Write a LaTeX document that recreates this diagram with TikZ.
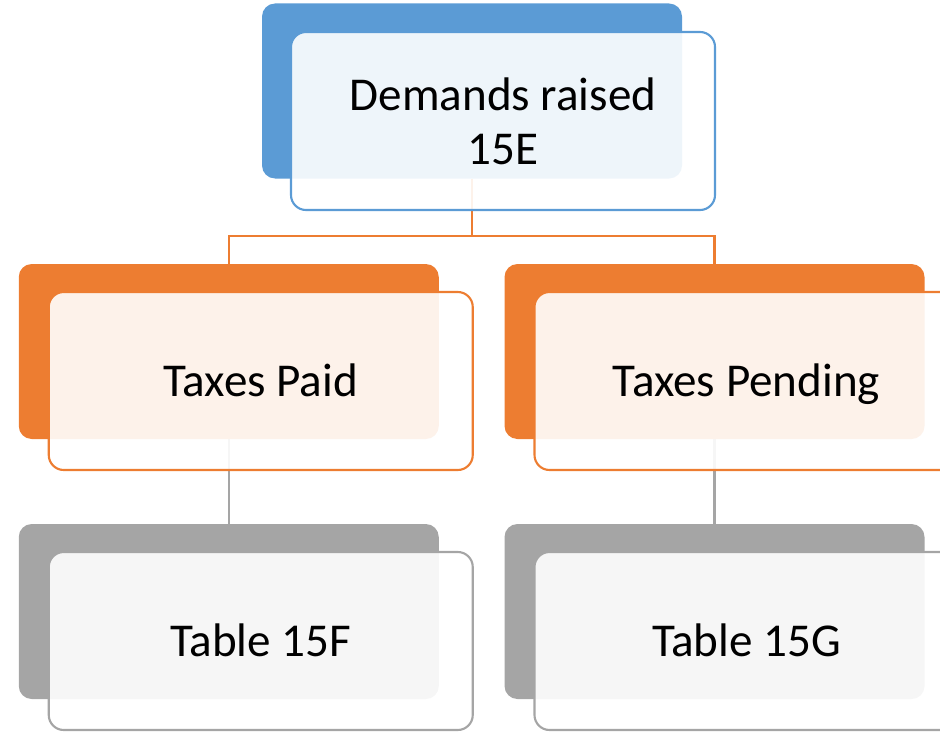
\documentclass[tikz,border=0pt]{standalone}
\usepackage{fontspec}
\setmainfont{Carlito}
\usepackage{xcolor}
\usepackage{tikz}
\usetikzlibrary{positioning, backgrounds}
\definecolor{accblue}{HTML}{5B9BD5}
\definecolor{accorange}{HTML}{ED7D31}
\definecolor{accgray}{HTML}{A5A5A5}

\begin{document}
\begin{tikzpicture}[
    back/.style={rounded corners=0.26cm,minimum width=8.4cm,
                 minimum height=3.5cm,inner sep=0pt,outer sep=0pt},
    front/.style={draw,line width=1.2pt,rounded corners=0.3cm,
                  fill=white,fill opacity=0.9,text opacity=1,
                  minimum width=8.48cm,minimum height=3.56cm,
                  inner sep=0pt,outer sep=0pt,align=center,
                  font=\fontsize{26.8}{30.7}\selectfont},
    oneline/.style={front,text height=0.61cm,text depth=0pt},
    link/.style={line width=1.2pt},
    linkA/.style={link,draw=accorange},
    linkB/.style={link,draw=accgray}
  ]
    \clip (0,0) rectangle (18.8,-14.64);

    \node[back,fill=accblue]   (dem)  at (9.44,-1.82)  {};
    \node[back,fill=accorange] (paid) at (4.575,-7.03) {};
    \node[back,fill=accorange] (pend) at (14.29,-7.03) {};
    \node[back,fill=accgray]   (tf)   at (4.575,-12.23) {};
    \node[back,fill=accgray]   (tg)   at (14.29,-12.23) {};

    \node[front,draw=accblue,below right=0.57cm and 0.58cm of dem.north west]
      (demtxt) {Demands raised\\15E};
    \node[oneline,draw=accorange,below right=0.56cm and 0.6cm of paid.north west]
      (paidtxt) {Taxes Paid};
    \node[oneline,draw=accorange,below right=0.56cm and 0.6cm of pend.north west]
      (pendtxt) {Taxes Pending};
    \node[oneline,draw=accgray,below right=0.56cm and 0.6cm of tf.north west]
      (tftxt) {Table 15F};
    \node[oneline,draw=accgray,below right=0.56cm and 0.6cm of tg.north west]
      (tgtxt) {Table 15G};

    \coordinate (split) at (9.44,-4.72);
    \begin{scope}[on background layer]
      \draw[linkA] (dem.south) -- (split) -| (paid.north);
      \draw[linkA] (split) -| (pend.north);
      \draw[linkB] (paid.south) -- (tf.north);
      \draw[linkB] (pend.south) -- (tg.north);
    \end{scope}
  \end{tikzpicture}
\end{document}
